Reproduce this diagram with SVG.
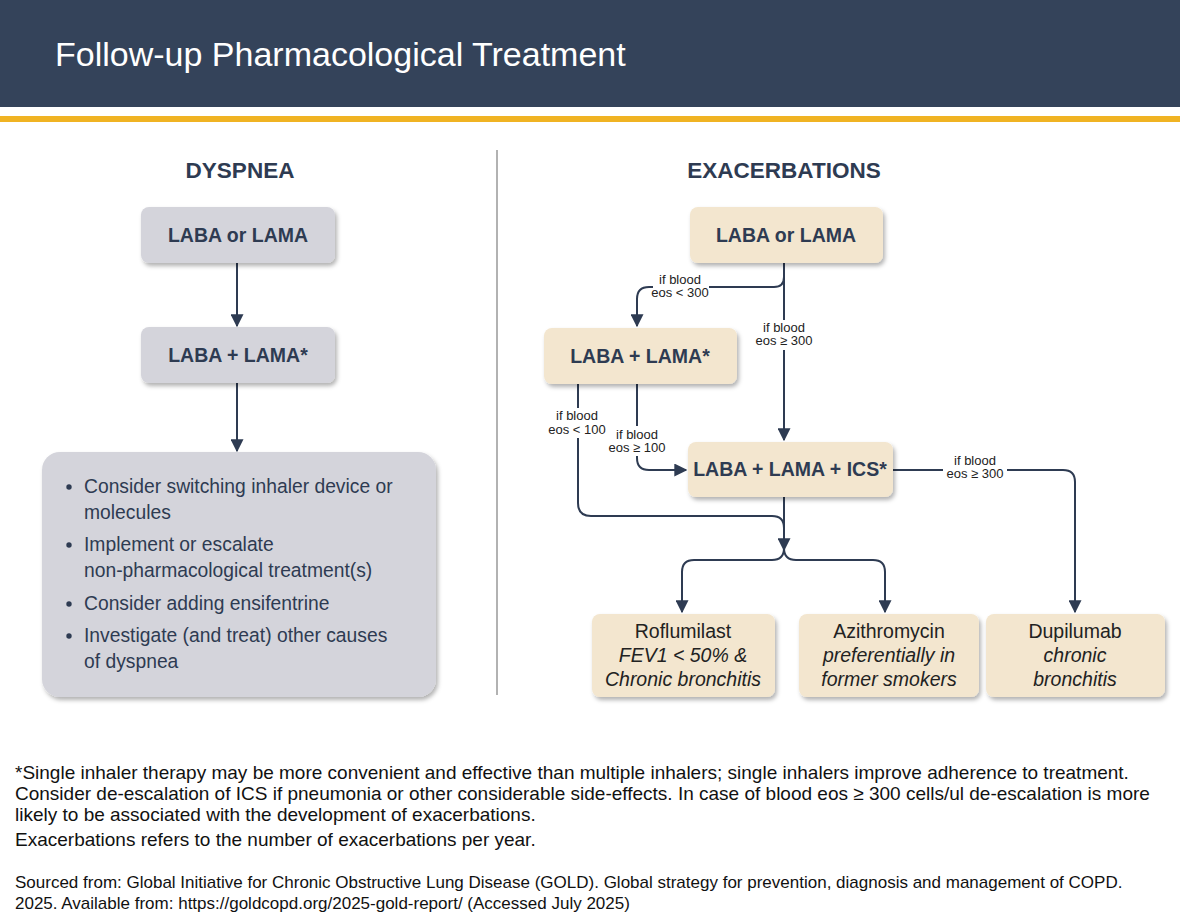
<svg xmlns="http://www.w3.org/2000/svg" width="1180" height="923" viewBox="0 0 1180 923">
<defs>
<filter id="sh" x="-10%" y="-10%" width="130%" height="140%"><feDropShadow dx="2" dy="3" stdDeviation="2" flood-color="#000" flood-opacity="0.3"/></filter>
<marker id="ar" viewBox="0 0 10 10" refX="9" refY="5" markerWidth="6.5" markerHeight="6.5" orient="auto-start-reverse"><path d="M0,0 L10,5 L0,10 z" fill="#2e3b52"/></marker>
<style>
text{font-family:"Liberation Sans",Arial,sans-serif;fill:#2e3b52}
.h{font-size:22.5px;font-weight:bold}
.bt{font-size:19.5px;font-weight:bold;text-anchor:middle}
.g{fill:#d4d4db;filter:url(#sh)}
.b{fill:#f3e6cf;filter:url(#sh)}
.c{fill:none;stroke:#2e3b52;stroke-width:2}
.l{font-size:13px;fill:#222;text-anchor:middle}
.bl{font-size:19.3px}
.r{font-size:19.5px;text-anchor:middle;fill:#222}
.f{font-size:19px;fill:#111}
.s{font-size:17px;fill:#111}
</style>
</defs>
<rect width="1180" height="923" fill="#fff"/>
<rect x="0" y="0" width="1180" height="107" fill="#34435a"/>
<rect x="0" y="116" width="1180" height="6" fill="#f0b323"/>
<text x="55" y="66" style="font-size:34px;fill:#fff">Follow-up Pharmacological Treatment</text>
<line x1="497" y1="150" x2="497" y2="695" stroke="#999" stroke-width="1.5"/>
<text class="h" x="240" y="178" text-anchor="middle">DYSPNEA</text>
<text class="h" x="784" y="178" text-anchor="middle">EXACERBATIONS</text>

<g id="connectors">
<path class="c" d="M237,263 V326" marker-end="url(#ar)"/>
<path class="c" d="M237,383 V451" marker-end="url(#ar)"/>
<path class="c" d="M784,263 V440" marker-end="url(#ar)"/>
<path class="c" d="M784,277 Q784,287 774,287 H649 Q637,287 637,299 V326" marker-end="url(#ar)"/>
<path class="c" d="M578,384 V503 Q578,516 591,516 H772 Q784,516 784,528"/>
<path class="c" d="M637,384 V458 Q637,470 649,470 H686" marker-end="url(#ar)"/>
<path class="c" d="M784,497 V550" marker-end="url(#ar)"/>
<path class="c" d="M784,548 Q784,560 772,560 H694 Q682,560 682,572 V612" marker-end="url(#ar)"/>
<path class="c" d="M784,548 Q784,560 796,560 H873 Q885,560 885,572 V612" marker-end="url(#ar)"/>
<path class="c" d="M893,470 H1063 Q1075,470 1075,482 V612" marker-end="url(#ar)"/>
<rect x="653" y="272" width="56" height="30" fill="#fff"/>
<text class="l" x="680" y="284">if blood</text><text class="l" x="680" y="297">eos &lt; 300</text>
<rect x="755" y="320" width="60" height="30" fill="#fff"/>
<text class="l" x="784" y="332">if blood</text><text class="l" x="784" y="345">eos ≥ 300</text>
<rect x="548" y="408" width="60" height="30" fill="#fff"/>
<text class="l" x="577" y="420">if blood</text><text class="l" x="577" y="434">eos &lt; 100</text>
<rect x="608" y="426" width="60" height="30" fill="#fff"/>
<text class="l" x="637" y="439">if blood</text><text class="l" x="637" y="452">eos ≥ 100</text>
<rect x="943" y="453" width="64" height="30" fill="#fff"/>
<text class="l" x="975" y="465">if blood</text><text class="l" x="975" y="478">eos ≥ 300</text>
</g>

<g id="d1"><rect class="g" x="141" y="207" width="194" height="56" rx="8"/><text class="bt" x="238" y="242">LABA or LAMA</text></g>
<g id="d2"><rect class="g" x="141" y="327" width="194" height="56" rx="8"/><text class="bt" x="238" y="362">LABA + LAMA*</text></g>
<g id="d3"><rect class="g" x="42" y="452" width="394" height="245" rx="18"/>
<g class="bl">
<circle cx="69" cy="487" r="2.7" fill="#2e3b52"/><text x="84" y="493">Consider switching inhaler device or</text><text x="84" y="519">molecules</text>
<circle cx="69" cy="545" r="2.7" fill="#2e3b52"/><text x="84" y="551">Implement or escalate</text><text x="84" y="577">non-pharmacological treatment(s)</text>
<circle cx="69" cy="604" r="2.7" fill="#2e3b52"/><text x="84" y="610">Consider adding ensifentrine</text>
<circle cx="69" cy="636" r="2.7" fill="#2e3b52"/><text x="84" y="642">Investigate (and treat) other causes</text><text x="84" y="668">of dyspnea</text>
</g></g>

<g id="e1"><rect class="b" x="690" y="207" width="193" height="56" rx="8"/><text class="bt" x="786" y="242">LABA or LAMA</text></g>
<g id="e2"><rect class="b" x="544" y="328" width="193" height="56" rx="8"/><text class="bt" x="640" y="363">LABA + LAMA*</text></g>
<g id="e3"><rect class="b" x="688" y="442" width="205" height="55" rx="8"/><text class="bt" x="790" y="476">LABA + LAMA + ICS*</text></g>
<g id="e4"><rect class="b" x="592" y="614" width="183" height="83" rx="8"/><text class="r" x="683" y="638">Roflumilast</text><text class="r" x="683" y="662" font-style="italic">FEV1 &lt; 50% &amp;</text><text class="r" x="683" y="686" font-style="italic">Chronic bronchitis</text></g>
<g id="e5"><rect class="b" x="799" y="614" width="180" height="83" rx="8"/><text class="r" x="889" y="638">Azithromycin</text><text class="r" x="889" y="662" font-style="italic">preferentially in</text><text class="r" x="889" y="686" font-style="italic">former smokers</text></g>
<g id="e6"><rect class="b" x="986" y="614" width="179" height="83" rx="8"/><text class="r" x="1075" y="638">Dupilumab</text><text class="r" x="1075" y="662" font-style="italic">chronic</text><text class="r" x="1075" y="686" font-style="italic">bronchitis</text></g>

<text class="f" x="15" y="779">*Single inhaler therapy may be more convenient and effective than multiple inhalers; single inhalers improve adherence to treatment.</text>
<text class="f" x="15" y="800">Consider de-escalation of ICS if pneumonia or other considerable side-effects. In case of blood eos ≥ 300 cells/ul de-escalation is more</text>
<text class="f" x="15" y="821">likely to be associated with the development of exacerbations.</text>
<text class="f" x="15" y="846">Exacerbations refers to the number of exacerbations per year.</text>
<text class="s" x="15" y="888">Sourced from: Global Initiative for Chronic Obstructive Lung Disease (GOLD). Global strategy for prevention, diagnosis and management of COPD.</text>
<text class="s" x="15" y="909">2025. Available from: https://goldcopd.org/2025-gold-report/ (Accessed July 2025)</text>
</svg>
